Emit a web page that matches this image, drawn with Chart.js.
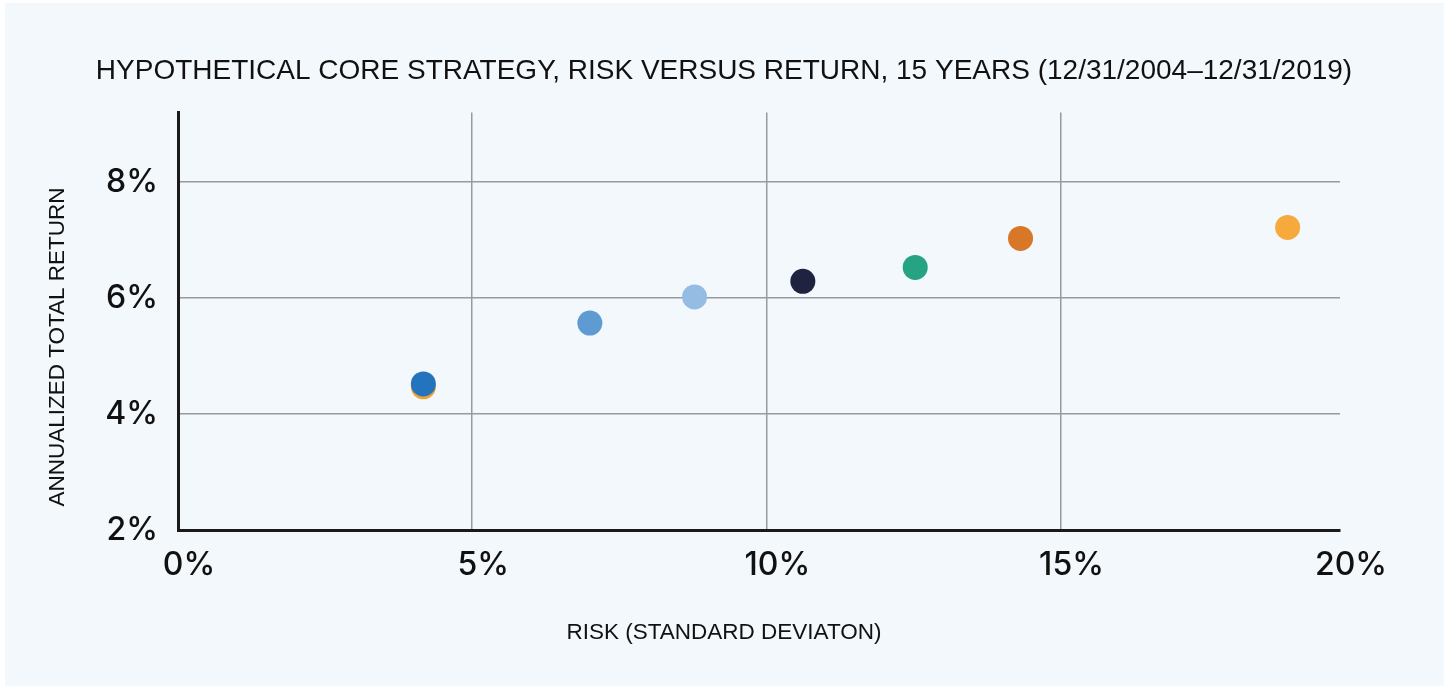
<!DOCTYPE html>
<html>
<head>
<meta charset="utf-8">
<script src="https://cdn.jsdelivr.net/npm/chart.js@4.4.0/dist/chart.umd.min.js"></script>
<style>
html, body { margin: 0; padding: 0; background: #ffffff; }
#panel { position: absolute; left: 5px; top: 3px; width: 1439px; height: 683px; background: #f3f8fc; }
#wrap { position: absolute; left: 0; top: 0; width: 1448px; height: 688px; }
</style>
</head>
<body>
<div id="panel"></div>
<div id="wrap"><canvas id="riskChart"></canvas></div>
<script>
// datos
const chartTitle = 'HYPOTHETICAL CORE STRATEGY, RISK VERSUS RETURN, 15 YEARS (12/31/2004\u201312/31/2019)';
const xTitle = 'RISK (STANDARD DEVIATON)';
const yTitle = 'ANNUALIZED TOTAL RETURN';

// riesgo (desv. estandar, %) y retorno anualizado (%) por punto
const riskValues = [4.17, 4.17, 7.0, 8.78, 10.62, 12.53, 14.32, 18.86];
const returnValues = [4.47, 4.52, 5.57, 6.02, 6.29, 6.53, 7.03, 7.22];
const pointColors = ['#eea434', '#2473bd', '#5f9bd3', '#95bde3', '#1f2340', '#25a383', '#d97729', '#f6aa3e'];

const xTicks = [0, 5, 10, 15, 20];
const xTickLabels = ['0%', '5%', '10%', '15%', '20%'];
const yTicks = [2, 4, 6, 8];
const yTickLabels = ['2%', '4%', '6%', '8%'];

const X_MIN = 0, X_MAX = 19.75;
const Y_MIN = 2, Y_MAX = 9.2;

const GRID = '#9a9a9a';
const AXIS = '#1a1a1a';

// titulo del eje Y, dibujado aparte para poder colocarlo como en el original
const yTitlePlugin = {
    id: 'yTitle',
    afterDraw(chart) {
        const ctx = chart.ctx;
        ctx.save();
        ctx.translate(58, 347);
        ctx.rotate(-Math.PI / 2);
        ctx.font = '22.5px "Liberation Sans", Arial, sans-serif';
        ctx.fillStyle = '#111111';
        ctx.textAlign = 'center';
        ctx.textBaseline = 'middle';
        ctx.fillText(yTitle, 0, 0);
        ctx.restore();
    }
};

const points = riskValues.map((x, i) => ({ x: x, y: returnValues[i] }));

new Chart(document.getElementById('riskChart'), {
    type: 'scatter',
    data: {
        datasets: [{
            data: points,
            backgroundColor: pointColors,
            borderWidth: 0,
            pointRadius: 12.5,
            pointHoverRadius: 12.5
        }]
    },
    options: {
        responsive: true,
        maintainAspectRatio: false,
        animation: false,
        layout: { padding: 0 },
        plugins: {
            legend: { display: false },
            tooltip: { enabled: false },
            title: {
                display: true,
                text: chartTitle,
                color: '#111111',
                font: { family: '"Liberation Sans", Arial, sans-serif', size: 28, weight: 'normal', lineHeight: 1.2 },
                padding: { top: 54, bottom: 25 }
            },
            subtitle: {
                display: true,
                position: 'bottom',
                text: xTitle,
                color: '#111111',
                font: { family: '"Liberation Sans", Arial, sans-serif', size: 22.5, weight: 'normal', lineHeight: 1.2 },
                padding: { top: 35, bottom: 42 }
            }
        },
        scales: {
            x: {
                type: 'linear',
                min: X_MIN,
                max: X_MAX,
                afterBuildTicks: scale => {
                    scale.ticks = xTicks.map(v => ({ value: Math.min(v, X_MAX) }));
                },
                afterFit: scale => { scale.height = 54; },
                border: { display: true, color: AXIS, width: 3 },
                grid: {
                    drawTicks: false,
                    lineWidth: 1.5,
                    color: c => (c.tick && (c.tick.value === X_MIN || c.tick.value === X_MAX)) ? 'rgba(0,0,0,0)' : GRID
                },
                ticks: {
                    padding: 16,
                    labelOffset: 11,
                    maxRotation: 0,
                    autoSkip: false,
                    color: '#111111',
                    font: { family: 'Inter, sans-serif', size: 32, weight: '500', lineHeight: 1.2 },
                    callback: (v, i) => xTickLabels[i]
                }
            },
            y: {
                type: 'linear',
                min: Y_MIN,
                max: Y_MAX,
                afterBuildTicks: scale => {
                    scale.ticks = yTicks.map(v => ({ value: v }));
                },
                afterFit: scale => { scale.width = 178; },
                border: { display: true, color: AXIS, width: 3 },
                grid: {
                    drawTicks: false,
                    lineWidth: 1.5,
                    color: c => (c.tick && c.tick.value === Y_MIN) ? 'rgba(0,0,0,0)' : GRID
                },
                ticks: {
                    padding: 20,
                    color: '#111111',
                    font: { family: 'Inter, sans-serif', size: 32, weight: '500', lineHeight: 1.2 },
                    callback: (v, i) => yTickLabels[i]
                }
            },
            // eje vacio a la derecha: solo reserva el margen derecho
            yRight: {
                type: 'linear',
                position: 'right',
                min: Y_MIN,
                max: Y_MAX,
                afterFit: scale => { scale.width = 108; },
                border: { display: false },
                grid: { display: false },
                ticks: { display: false }
            }
        }
    },
    plugins: [yTitlePlugin]
});
</script>
</body>
</html>
